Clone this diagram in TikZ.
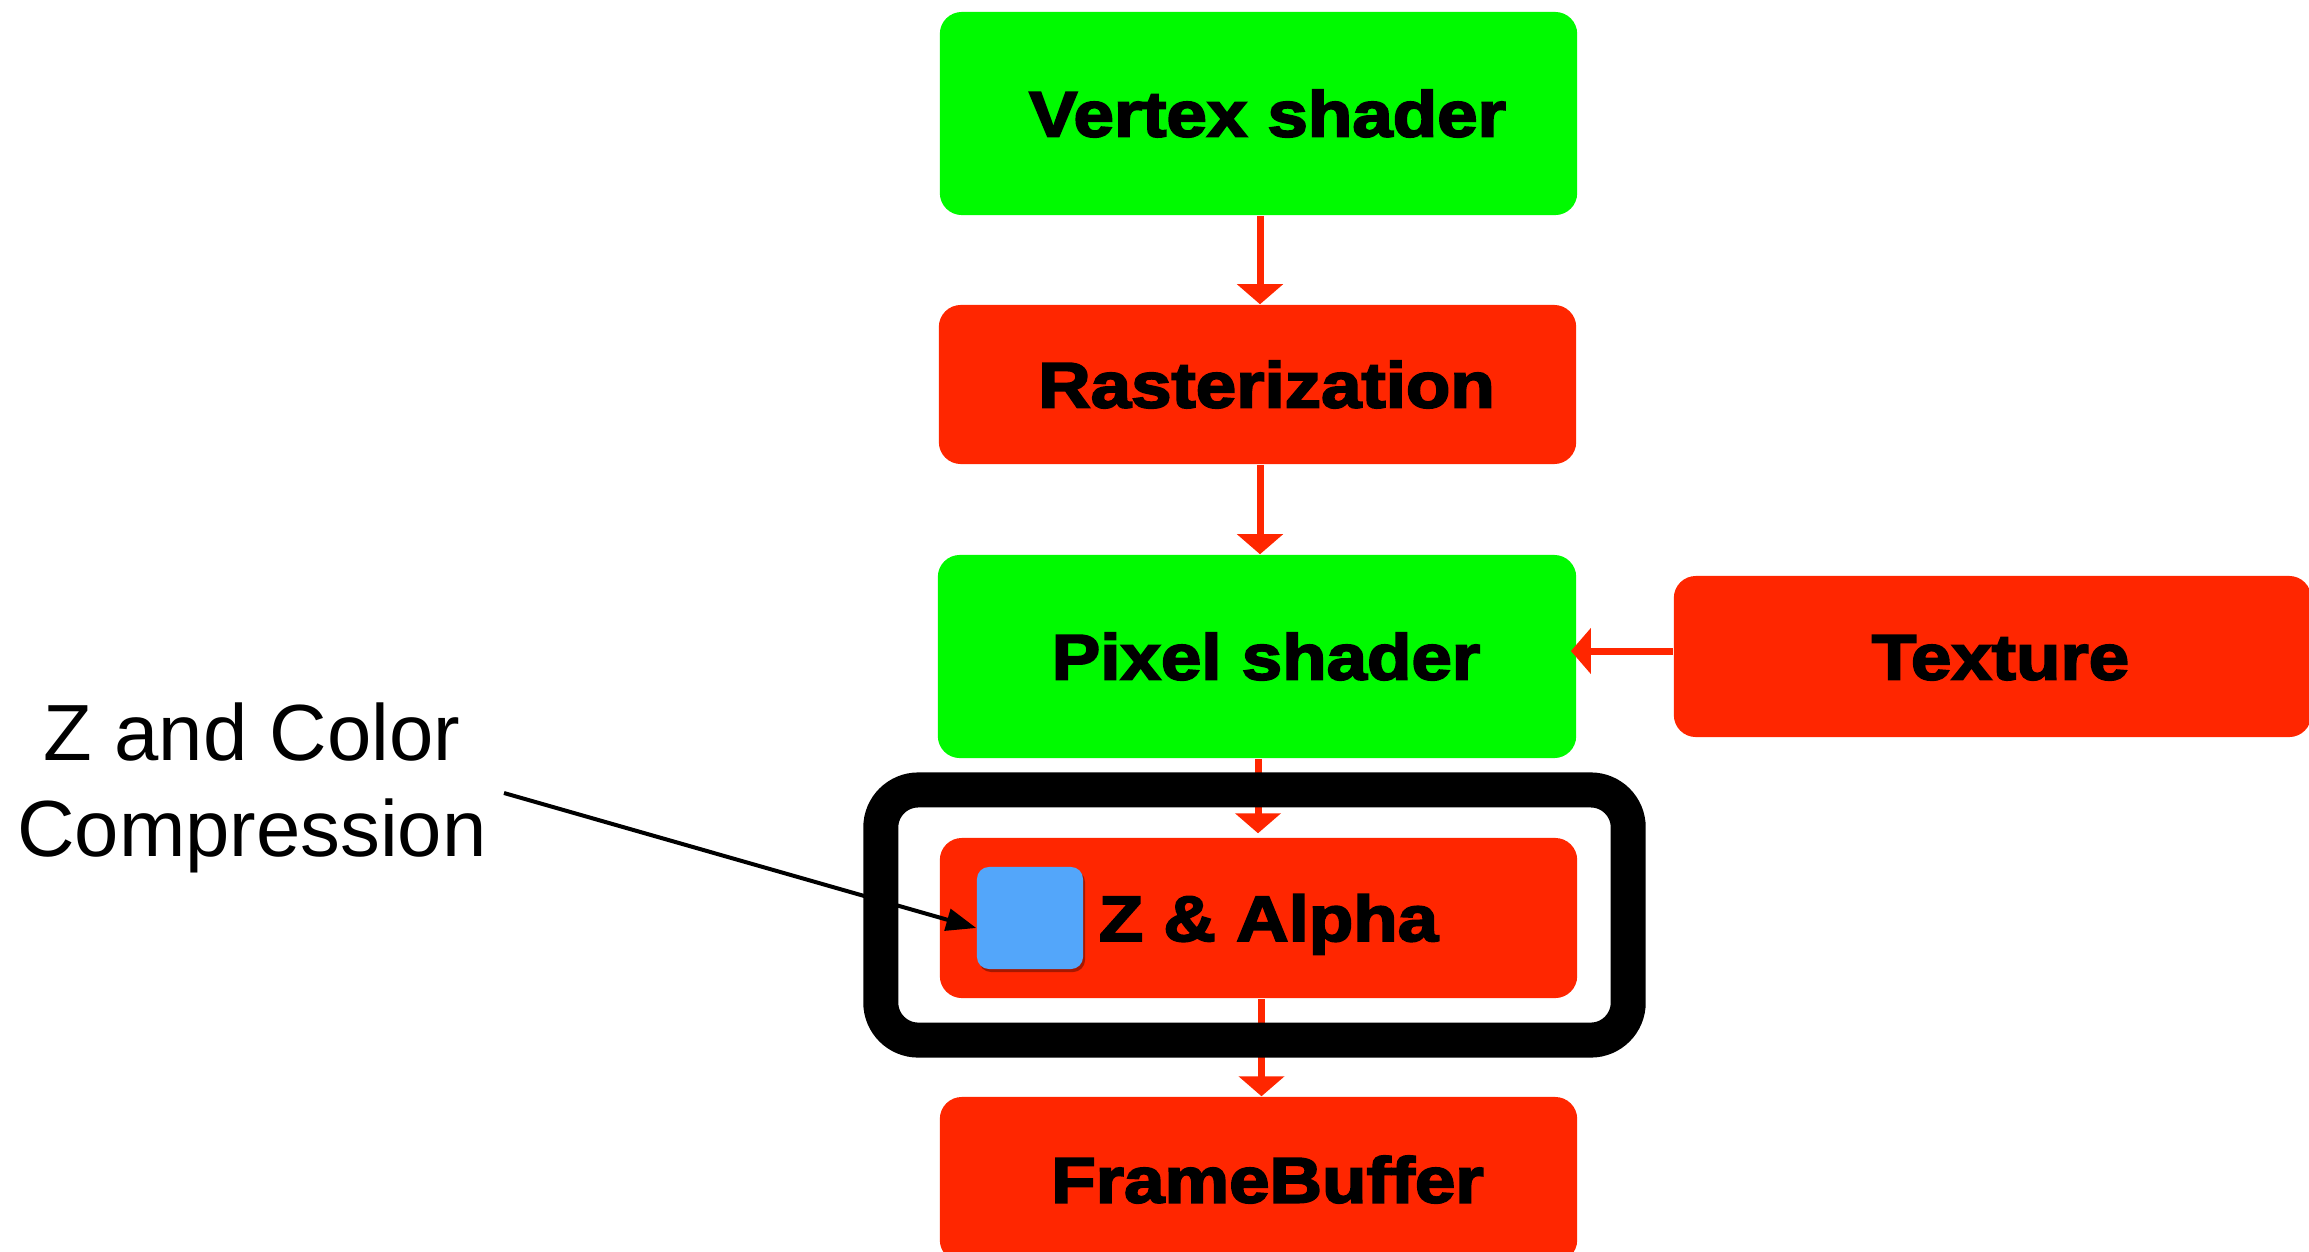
\documentclass[tikz,border=0pt]{standalone}
\usepackage{fontspec}
\setmainfont{Liberation Sans}
\newfontfamily\boxfont{Liberation Sans}[BoldFeatures={FakeStretch=1.13,FakeBold=3}]
\usetikzlibrary{arrows.meta,shadows}
\definecolor{kgreen}{RGB}{0,250,0}
\definecolor{kred}{RGB}{255,38,0}
\definecolor{kblue}{RGB}{83,166,250}
\tikzset{
  stage/.style={fill=#1, rounded corners=0.22cm, inner sep=0pt, minimum width=6.37cm,
    text height=0.46cm, text depth=0pt, text=black,
    font=\boxfont\bfseries\fontsize{18.3pt}{20pt}\selectfont},
  flow/.style={draw=kred, line width=0.07cm, -{Triangle[length=0.2cm,width=0.45cm]}},
  callout/.style={draw=black, line width=0.04cm, -{Triangle[length=0.3cm,width=0.22cm]}},
  ring/.style={draw=black, line width=0.35cm, rounded corners=0.375cm, inner sep=0pt},
  chip/.style={fill=kblue, rounded corners=0.12cm, inner sep=0pt,
    drop shadow={shadow xshift=0.02cm, shadow yshift=-0.03cm, opacity=0.35, fill=black}},
  note/.style={align=center, inner sep=0pt, font=\fontsize{22.65pt}{27.3pt}\selectfont}
}
\begin{document}
\begin{tikzpicture}[x=0.01cm,y=-0.01cm]
\useasboundingbox (0,0) rectangle (2309,1251);
\node[stage=kgreen, minimum height=2.03cm] (vs) at (1258.5,113.5) {\hspace*{0.18cm}Vertex shader};
\node[stage=kred, minimum height=1.59cm] (ras) at (1257.5,384.5) {\hspace*{0.18cm}Rasterization};
\node[stage=kgreen, minimum height=2.03cm, minimum width=6.38cm] (ps) at (1257,656.5) {\hspace*{0.18cm}Pixel shader};
\node[stage=kred, minimum height=1.61cm] (tex) at (1992.5,656.5) {\hspace*{0.16cm}Texture};
\node[stage=kred, minimum height=1.60cm] (za) at (1258.5,918) {\hspace*{0.2cm}Z \& Alpha};
\node[stage=kred, minimum height=1.65cm] (fb) at (1258.5,1179.5) {\hspace*{0.18cm}FrameBuffer};

\draw[flow] ([xshift=0.015cm]vs.south) -- ([xshift=0.015cm]vs.south |- ras.north);
\draw[flow] ([xshift=0.025cm]ras.south) -- ([xshift=0.025cm]ras.south |- ps.north);
\draw[flow] ([yshift=0.055cm]tex.west) -- ([yshift=0.055cm,xshift=-0.06cm]ps.east);
\draw[flow] ([xshift=0.01cm]ps.south) -- ([xshift=0.01cm,yshift=0.04cm]ps.south |- za.north);
\draw[flow] ([xshift=0.03cm]za.south) -- ([xshift=0.03cm]za.south |- fb.north);

\node[ring, minimum width=7.47cm, minimum height=2.5cm] (frame) at (1254.5,915) {};

\node[chip, minimum width=1.06cm, minimum height=1.02cm] (bl) at (1030,918) {};

\node[note] (lbl) at (252,788) {Z and Color\\Compression};
\coordinate (cstart) at (504,793);
\draw[callout] (cstart) -- ([yshift=-0.1cm]bl.west);
\end{tikzpicture}
\end{document}
